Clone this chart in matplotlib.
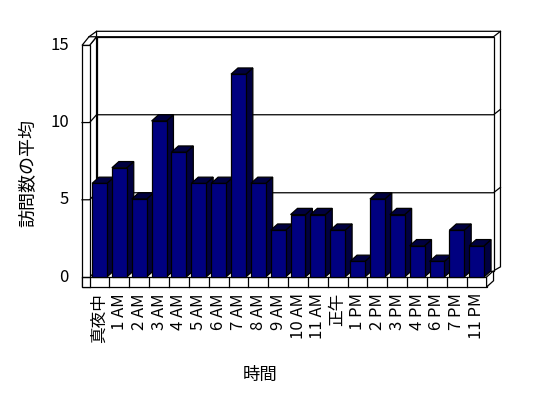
import matplotlib
matplotlib.use("Agg")
import matplotlib.pyplot as plt
from matplotlib.patches import Polygon

plt.rcParams['font.family'] = ['Noto Sans CJK JP', 'DejaVu Sans']

hours = ["真夜中", "1 AM", "2 AM", "3 AM", "4 AM", "5 AM", "6 AM", "7 AM",
         "8 AM", "9 AM", "10 AM", "11 AM", "正午", "1 PM", "2 PM", "3 PM",
         "4 PM", "6 PM", "7 PM", "11 PM"]
visits = [6, 7, 5, 10, 8, 6, 6, 13, 6, 3, 4, 4, 3, 1, 5, 4, 2, 1, 3, 2]
yticks = [0, 5, 10, 15]

navy = "#000080"
shade = "#000040"
n = len(hours)

# depth of the oblique box, in data units
dx, dy = 0.35, 0.40
wall = 0.38      # left wall thickness
floor_h = 0.64   # floor thickness
top_t = 0.35     # back wall thickness
ymax = 15
front = 0.99     # front plane is drawn slightly smaller

fig = plt.figure(figsize=(5.48, 3.98), dpi=100)
ax = fig.add_axes([0, 0, 1, 1])
ax.set_xlim(-5.013, 22.594)
ax.set_ylim(-7.756, 17.756)
ax.axis("off")

lw = 0.9
x0, x1 = -0.5, n - 0.5
ftop = ymax * front

def poly(pts, fc="white", z=1):
    ax.add_patch(Polygon(pts, closed=True, facecolor=fc, edgecolor="black",
                         linewidth=lw, zorder=z))

# back wall with its thickness
poly([(x0 + dx, ymax + dy), (x0 + dx, ymax + dy + top_t),
      (x1 + 2 * dx, ymax + dy + top_t), (x1 + 2 * dx, dy + 0.25),
      (x1 + dx, dy), (x1 + dx, ymax + dy)])
poly([(x0 + dx, dy), (x0 + dx, ymax + dy), (x1 + dx, ymax + dy), (x1 + dx, dy)])
ax.plot([x1 + dx, x1 + 2 * dx], [ymax + dy, ymax + dy + top_t], color="black", lw=lw, zorder=1)

# left wall
poly([(x0 - wall, -floor_h), (x0 - wall, ftop), (x0, ftop), (x0, -floor_h)], z=1.5)
poly([(x0, ftop), (x0 + dx, ymax + dy), (x0 + dx, dy), (x0, 0)], z=1.2)
poly([(x0 - wall, ftop), (x0, ftop), (x0 + dx, ymax + dy),
      (x0 - wall + dx, ymax + dy)], z=1.5)
ax.plot([x0 - wall + dx, x0 + dx], [ymax + dy, ymax + dy + top_t], color="black", lw=lw, zorder=1.5)

# gridlines and ticks
for t in yticks[1:-1]:
    ax.plot([x0 - wall, x0, x0 + dx, x1 + dx, x1 + 2 * dx],
            [t * front, t * front, t + dy, t + dy, t + dy + top_t],
            color="black", lw=lw, zorder=1.6)
for t in yticks:
    ax.text(-1.54, t * front, str(t), ha="right", va="center", fontsize=12)
ax.plot([x0 - wall, x0], [0, 0], color="black", lw=lw, zorder=1.6)

# floor slab
poly([(x0 - wall, -floor_h), (x0 - wall, 0), (x1, 0), (x1, -floor_h)], z=1.5)
poly([(x1, 0), (x1, -floor_h), (x1 + dx, -floor_h + dy), (x1 + dx, dy)], z=1.5)
for i in range(n):
    ax.plot([i - 0.5, i - 0.5], [0, -floor_h], color="black", lw=lw, zorder=1.6)

# bars: side and top faces, then front faces
bw = 0.75
for i, v in enumerate(visits):
    r = i + bw / 2
    l = i - bw / 2
    poly([(r, 0), (r, v), (r + dx, v + dy), (r + dx, dy)], fc=shade, z=2)
    poly([(l, v), (r, v), (r + dx, v + dy), (l + dx, v + dy)], fc=shade, z=2)
ax.bar(range(n), visits, width=bw, color=navy, edgecolor="black",
       linewidth=lw, zorder=3)

for i, h in enumerate(hours):
    ax.text(i, -1.03, h, rotation=90, ha="center", va="top", fontsize=12)

ax.text(8.09, -6.28, "時間", ha="center", va="center", fontsize=12.5)
ax.text(-3.6, 6.67, "訪問数の平均", rotation=90, ha="center", va="center", fontsize=13)

fig.savefig("out.png", dpi=100)
